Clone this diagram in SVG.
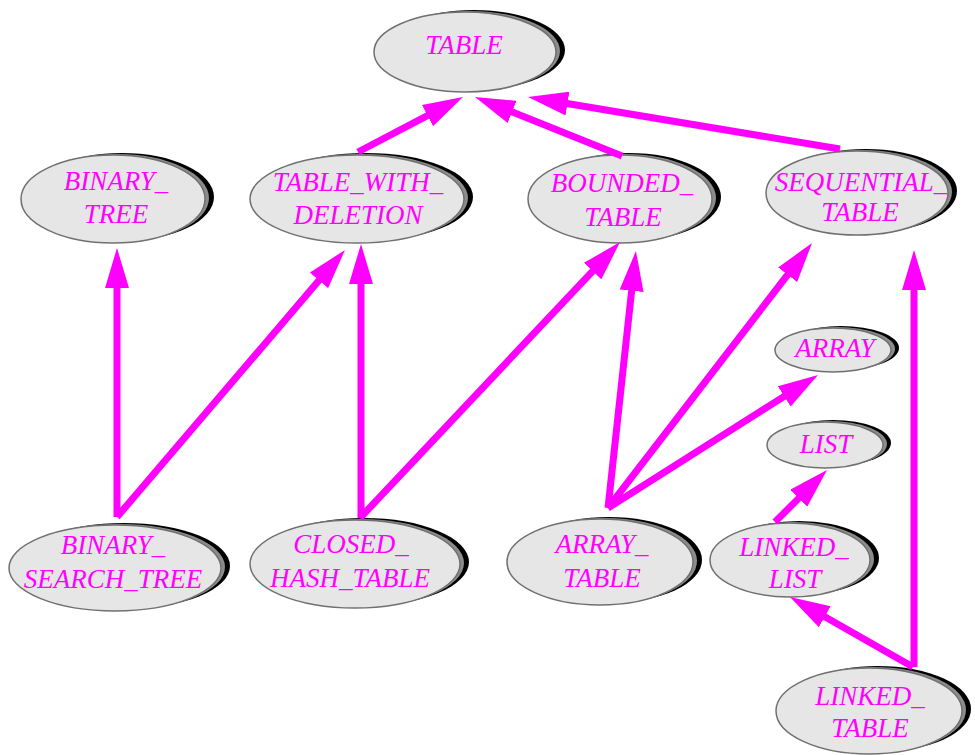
<svg xmlns="http://www.w3.org/2000/svg" xmlns:xlink="http://www.w3.org/1999/xlink" width="975" height="755" viewBox="0 0 975 755">
<style>
.sh{fill:#000}
.mid{fill:#8c8c8c}
.body{fill:#e6e6e6;stroke:#707070;stroke-width:1.5}
text{font-family:"Liberation Serif","Times New Roman",serif;font-style:italic;font-size:27px;fill:#ff00ff;text-anchor:middle}
.edge{stroke:#ff00ff;stroke-width:7;fill:none;marker-end:url(#ah)}
</style>
<defs>
<marker id="ah" markerUnits="userSpaceOnUse" markerWidth="40" markerHeight="24" viewBox="0 0 40 24" refX="8" refY="12" orient="auto">
<path d="M0,0 L40,12 L0,24 z" fill="#ff00ff"/>
</marker>
</defs>
<rect width="975" height="755" fill="#fff"/>
<g id="TABLE">
<ellipse class="sh" cx="474" cy="50" rx="91" ry="40"/><ellipse class="mid" cx="469" cy="51" rx="91" ry="40"/><ellipse class="body" cx="465" cy="52" rx="91" ry="40"/>
<text x="464" y="54">TABLE</text></g>
<g id="BINARY_TREE">
<ellipse class="sh" cx="122" cy="197" rx="92" ry="44"/><ellipse class="mid" cx="117" cy="198" rx="92" ry="44"/><ellipse class="body" cx="113" cy="199" rx="92" ry="44"/>
<text x="116" y="190">BINARY_</text><text x="116" y="223">TREE</text></g>
<g id="TABLE_WITH_DELETION">
<ellipse class="sh" cx="366" cy="197" rx="107" ry="44"/><ellipse class="mid" cx="361" cy="198" rx="107" ry="44"/><ellipse class="body" cx="357" cy="199" rx="107" ry="44"/>
<text x="358" y="191">TABLE_WITH_</text><text x="358" y="224">DELETION</text></g>
<g id="BOUNDED_TABLE">
<ellipse class="sh" cx="629" cy="197" rx="92" ry="44"/><ellipse class="mid" cx="624" cy="198" rx="92" ry="44"/><ellipse class="body" cx="620" cy="199" rx="92" ry="44"/>
<text x="622" y="192">BOUNDED_</text><text x="623" y="226">TABLE</text></g>
<g id="SEQUENTIAL_TABLE">
<ellipse class="sh" cx="866" cy="191" rx="91" ry="42"/><ellipse class="mid" cx="861" cy="192" rx="91" ry="42"/><ellipse class="body" cx="857" cy="193" rx="91" ry="42"/>
<text x="861" y="191">SEQUENTIAL_</text><text x="860" y="221">TABLE</text></g>
<g id="ARRAY">
<ellipse class="sh" cx="841" cy="348" rx="58" ry="22"/><ellipse class="mid" cx="837" cy="349" rx="58" ry="22"/><ellipse class="body" cx="833" cy="350" rx="58" ry="22"/>
<text x="835" y="357">ARRAY</text></g>
<g id="LIST">
<ellipse class="sh" cx="833" cy="443" rx="58" ry="23"/><ellipse class="mid" cx="829" cy="444" rx="58" ry="23"/><ellipse class="body" cx="825" cy="445" rx="58" ry="23"/>
<text x="826" y="453">LIST</text></g>
<g id="BINARY_SEARCH_TREE">
<ellipse class="sh" cx="124" cy="566" rx="106" ry="43"/><ellipse class="mid" cx="119" cy="567" rx="106" ry="43"/><ellipse class="body" cx="115" cy="568" rx="106" ry="43"/>
<text x="113" y="554">BINARY_</text><text x="113" y="588">SEARCH_TREE</text></g>
<g id="CLOSED_HASH_TABLE">
<ellipse class="sh" cx="364" cy="562" rx="105" ry="44"/><ellipse class="mid" cx="359" cy="563" rx="105" ry="44"/><ellipse class="body" cx="355" cy="564" rx="105" ry="44"/>
<text x="351" y="553">CLOSED_</text><text x="350" y="587">HASH_TABLE</text></g>
<g id="ARRAY_TABLE">
<ellipse class="sh" cx="609" cy="560" rx="93" ry="43"/><ellipse class="mid" cx="604" cy="561" rx="93" ry="43"/><ellipse class="body" cx="600" cy="562" rx="93" ry="43"/>
<text x="602" y="553">ARRAY_</text><text x="602" y="587">TABLE</text></g>
<g id="LINKED_LIST">
<ellipse class="sh" cx="799" cy="558" rx="80" ry="37"/><ellipse class="mid" cx="794" cy="559" rx="80" ry="37"/><ellipse class="body" cx="790" cy="560" rx="80" ry="37"/>
<text x="794" y="556">LINKED_</text><text x="795" y="588">LIST</text></g>
<g id="LINKED_TABLE">
<ellipse class="sh" cx="878" cy="709" rx="93" ry="43"/><ellipse class="mid" cx="873" cy="710" rx="93" ry="43"/><ellipse class="body" cx="869" cy="711" rx="93" ry="43"/>
<text x="870" y="705">LINKED_</text><text x="870" y="737">TABLE</text></g>
<g id="connectors">
<line class="edge" x1="358" y1="152" x2="434.6" y2="111.9"/>
<line class="edge" x1="622" y1="156" x2="504.7" y2="108.9"/>
<line class="edge" x1="840" y1="149" x2="559.6" y2="102.3"/>
<line class="edge" x1="117" y1="517" x2="117" y2="280"/>
<line class="edge" x1="117" y1="517" x2="324.2" y2="274.3"/>
<line class="edge" x1="361" y1="518" x2="361" y2="276"/>
<line class="edge" x1="360" y1="518" x2="598.1" y2="265.3"/>
<line class="edge" x1="608" y1="508" x2="632.5" y2="282.8"/>
<line class="edge" x1="608" y1="508" x2="792.5" y2="268.4"/>
<line class="edge" x1="608" y1="508" x2="791" y2="392.1"/>
<line class="edge" x1="775" y1="522" x2="804.4" y2="492.6"/>
<line class="edge" x1="913" y1="667" x2="817.8" y2="612.8"/>
<line class="edge" x1="914" y1="667" x2="914" y2="282"/>
</g>
</svg>
